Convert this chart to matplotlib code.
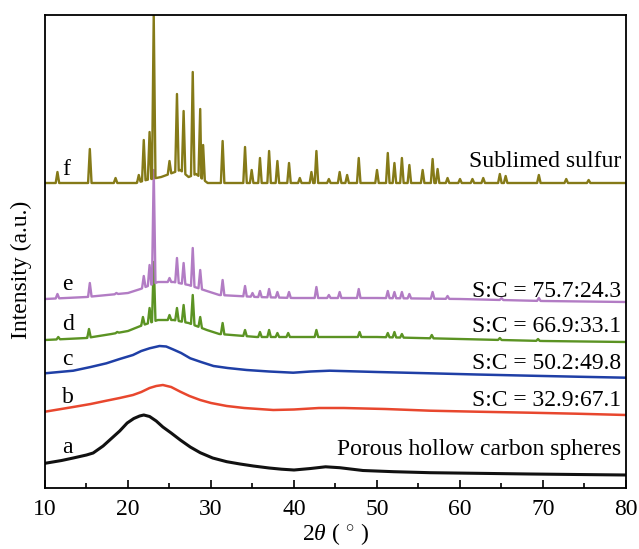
import numpy as np
import matplotlib
matplotlib.use("Agg")
import matplotlib.pyplot as plt
from matplotlib.ticker import MultipleLocator

plt.rcParams['font.family'] = ['Liberation Serif', 'DejaVu Serif']
plt.rcParams['mathtext.fontset'] = 'custom'
plt.rcParams['mathtext.rm'] = 'Liberation Serif'
plt.rcParams['mathtext.it'] = 'Liberation Serif:italic'

# ---------------- data (2theta in degrees, intensity in a.u.) ----------------
# a: porous hollow carbon spheres
a_x = [10.0, 12.0, 13.4, 15.0, 15.8, 17.0, 18.2, 19.0, 19.9, 20.7, 21.4, 21.9, 22.6, 23.4, 24.2, 25.2,
       26.3, 27.5, 28.7, 30.2, 31.9, 33.5, 35.1, 37.0, 38.5, 40.0, 42.0, 43.8, 45.5, 48.3, 52.0, 56.4, 62.0,
       68.4, 74.0, 80.0]
a_y = [24.7, 27.5, 30, 33, 35, 42, 51, 57, 65, 69.5, 72, 73, 71.5, 67, 61, 55,
       48, 41, 35.3, 30, 26.3, 24, 22, 20, 18.8, 18, 19.5, 21.2, 20.3, 17.5, 16.3, 15.3, 14.7,
       14, 13.5, 13]
# b: S:C = 32.9:67.1
b_x = [10.0, 13.4, 15.5, 17.4, 19.0, 20.6, 21.6, 22.6, 23.4, 24.2, 25.2, 26.3, 27.4, 28.7, 30.0, 31.9,
       34.0, 37.5, 40.0, 43.0, 46.0, 51.0, 56.4, 62.0, 68.4, 74.0, 80.0]
b_y = [76.3, 81, 84, 87.3, 90, 93, 96, 100, 102, 103, 101, 96.3, 92, 88, 85, 82,
       80, 78, 78.5, 80, 80, 79, 77.3, 76.3, 75.3, 74.3, 73]
# c: S:C = 50.2:49.8
c_x = [10.0, 13.4, 15.5, 17.4, 19.0, 20.6, 21.6, 22.6, 23.8, 24.6, 25.4, 26.4, 27.5, 28.8, 30.3, 32.0,
       34.3, 37.0, 39.9, 42.0, 44.3, 50.0, 56.4, 62.0, 68.4, 74.0, 80.0]
c_y = [114.7, 117.3, 121, 124.7, 129, 133, 137, 139.7, 142, 141.5, 138.7, 135, 129.7, 126, 122, 120,
       118, 116.5, 115.3, 116.5, 117.3, 116, 114.7, 113.5, 112.3, 111.3, 110.3]

# d: S:C = 66.9:33.1  (baseline knots + peak tops)
d_base_x = [10, 15, 18, 20, 21.5, 23.6, 25.5, 27.3, 29.5, 31, 35.5, 40, 50, 60, 70, 80]
d_base_y = [148, 150, 154, 157, 162, 168, 168, 165, 158, 154, 151, 151, 151, 149, 147, 146]
d_pk_x = [11.6, 15.3, 18.7, 21.8, 22.6, 23.1, 25.0, 25.9, 26.7, 27.8, 28.7, 31.4, 34.1, 35.9, 37.0,
          38.0, 39.3, 42.7, 47.9, 51.3, 52.1, 53.0, 56.6, 64.8, 69.4]
d_pk_y = [151, 159, 156, 171, 180, 226, 173, 180, 183, 193, 171, 165, 158, 156, 158,
          155, 155, 158, 156, 155, 156, 154, 153, 150, 149]

# e: S:C = 75.7:24.3
e_base_x = [10, 15, 20, 21.5, 23.6, 25.5, 27.3, 29.5, 31, 35.5, 40, 50, 60, 70, 80]
e_base_y = [189, 191, 195, 199, 206, 206, 203, 197, 193, 191, 190, 190, 189, 187, 186]
e_pk_x = [11.5, 15.4, 18.6, 21.9, 22.6, 23.1, 25.0, 25.9, 26.7, 27.8, 28.7, 31.4, 34.1, 35.0, 35.9,
          37.0, 38.0, 39.4, 42.7, 44.2, 45.5, 47.8, 51.3, 52.1, 53.0, 53.9, 56.7, 58.5, 65.0, 69.5]
e_pk_y = [194, 205, 195, 212, 223, 318, 210, 230, 225, 240, 218, 208, 202, 195, 197,
          199, 196, 196, 201, 193, 196, 199, 197, 196, 196, 194, 196, 192, 190, 190]

# f: sublimed sulfur
f_base_x = [10, 21, 22.2, 24, 26.3, 27.3, 28.2, 29.6, 80]
f_base_y = [305, 305, 308, 311, 318, 311, 314, 305, 305]
f_pk_x = [11.5, 15.4, 18.5, 21.3, 21.9, 22.6, 23.1, 25.0, 25.9, 26.7, 27.8, 28.7, 29.05, 31.4, 34.1,
          34.9, 35.9, 37.0, 38.0, 39.4, 40.7, 42.1, 42.7, 44.2, 45.5, 46.4, 47.8, 50.0, 51.3, 52.1,
          53.0, 53.9, 55.5, 56.7, 57.3, 58.5, 60.0, 61.5, 62.8, 64.8, 65.5, 69.5, 72.8, 75.5]
f_pk_y = [316, 339, 310, 313, 348, 356, 473, 327, 394, 377, 416, 379, 343, 347, 341,
          318, 330, 337, 327, 325, 310, 316, 337, 309, 316, 313, 330, 318, 335, 325,
          330, 323, 318, 329, 319, 310, 309, 309, 310, 314, 312, 313, 309, 308]

labels_left = ['a', 'b', 'c', 'd', 'e', 'f']
labels_left_y = [35, 85, 123, 158, 198, 313]
labels_right = ['Porous hollow carbon spheres', 'S:C = 32.9:67.1', 'S:C = 50.2:49.8',
                'S:C = 66.9:33.1', 'S:C = 75.7:24.3', 'Sublimed sulfur']
labels_right_y = [33, 82, 119, 156, 191, 321]
colors = ['#111111', '#E8472E', '#1F3FA6', '#5B9323', '#B27CC4', '#857A18']


def trace(bx, by, px, py, w=0.21):
    """Polyline through baseline knots with a sharp spike at each peak."""
    bx = np.asarray(bx, float)
    by = np.asarray(by, float)
    keep = [not any(abs(x - p) <= w for p in px) for x in bx]
    xs = list(bx[keep])
    ys = list(by[keep])
    for p, t in zip(px, py):
        xs += [p - w, p, p + w]
        ys += [np.interp(p - w, bx, by), t, np.interp(p + w, bx, by)]
    o = np.argsort(xs, kind='stable')
    return np.asarray(xs)[o], np.asarray(ys)[o]


fig = plt.figure(figsize=(6.39, 5.49), dpi=100)
ax = fig.add_axes([45 / 639, 1 - 488 / 549, 581 / 639, 473 / 549])

ax.plot(a_x, a_y, color=colors[0], lw=2.2, solid_joinstyle='round')
ax.plot(b_x, b_y, color=colors[1], lw=1.8, solid_joinstyle='round')
ax.plot(c_x, c_y, color=colors[2], lw=1.8, solid_joinstyle='round')
for bx, by, px, py, col in [(d_base_x, d_base_y, d_pk_x, d_pk_y, colors[3]),
                            (e_base_x, e_base_y, e_pk_x, e_pk_y, colors[4]),
                            (f_base_x, f_base_y, f_pk_x, f_pk_y, colors[5])]:
    x, y = trace(bx, by, px, py)
    ax.plot(x, y, color=col, lw=1.7, solid_joinstyle='round')

fs = 17
for t, y in zip(labels_left, labels_left_y):
    ax.text(12.1, y, t, ha='left', va='baseline', fontsize=fs)
for t, y in zip(labels_right, labels_right_y):
    ax.text(79.45, y, t, ha='right', va='baseline', fontsize=fs)

ax.set_xlim(10, 80)
ax.set_ylim(0, 473)
ax.xaxis.set_major_locator(MultipleLocator(10))
ax.xaxis.set_minor_locator(MultipleLocator(5))
ax.tick_params(axis='x', which='major', direction='in', length=6, width=1.2, labelsize=fs, pad=8)
ax.tick_params(axis='x', which='minor', direction='in', length=3.5, width=1.2)
ax.set_yticks([])
for s in ax.spines.values():
    s.set_linewidth(1.3)

ax.set_xlabel(r'2$\mathit{\theta}$ ( $^{\circ}$ )', fontsize=fs, labelpad=1)
ax.set_ylabel('Intensity (a.u.)', fontsize=fs)
ax.yaxis.set_label_coords(-0.022, 0.461)

fig.savefig('out.png', dpi=100)
